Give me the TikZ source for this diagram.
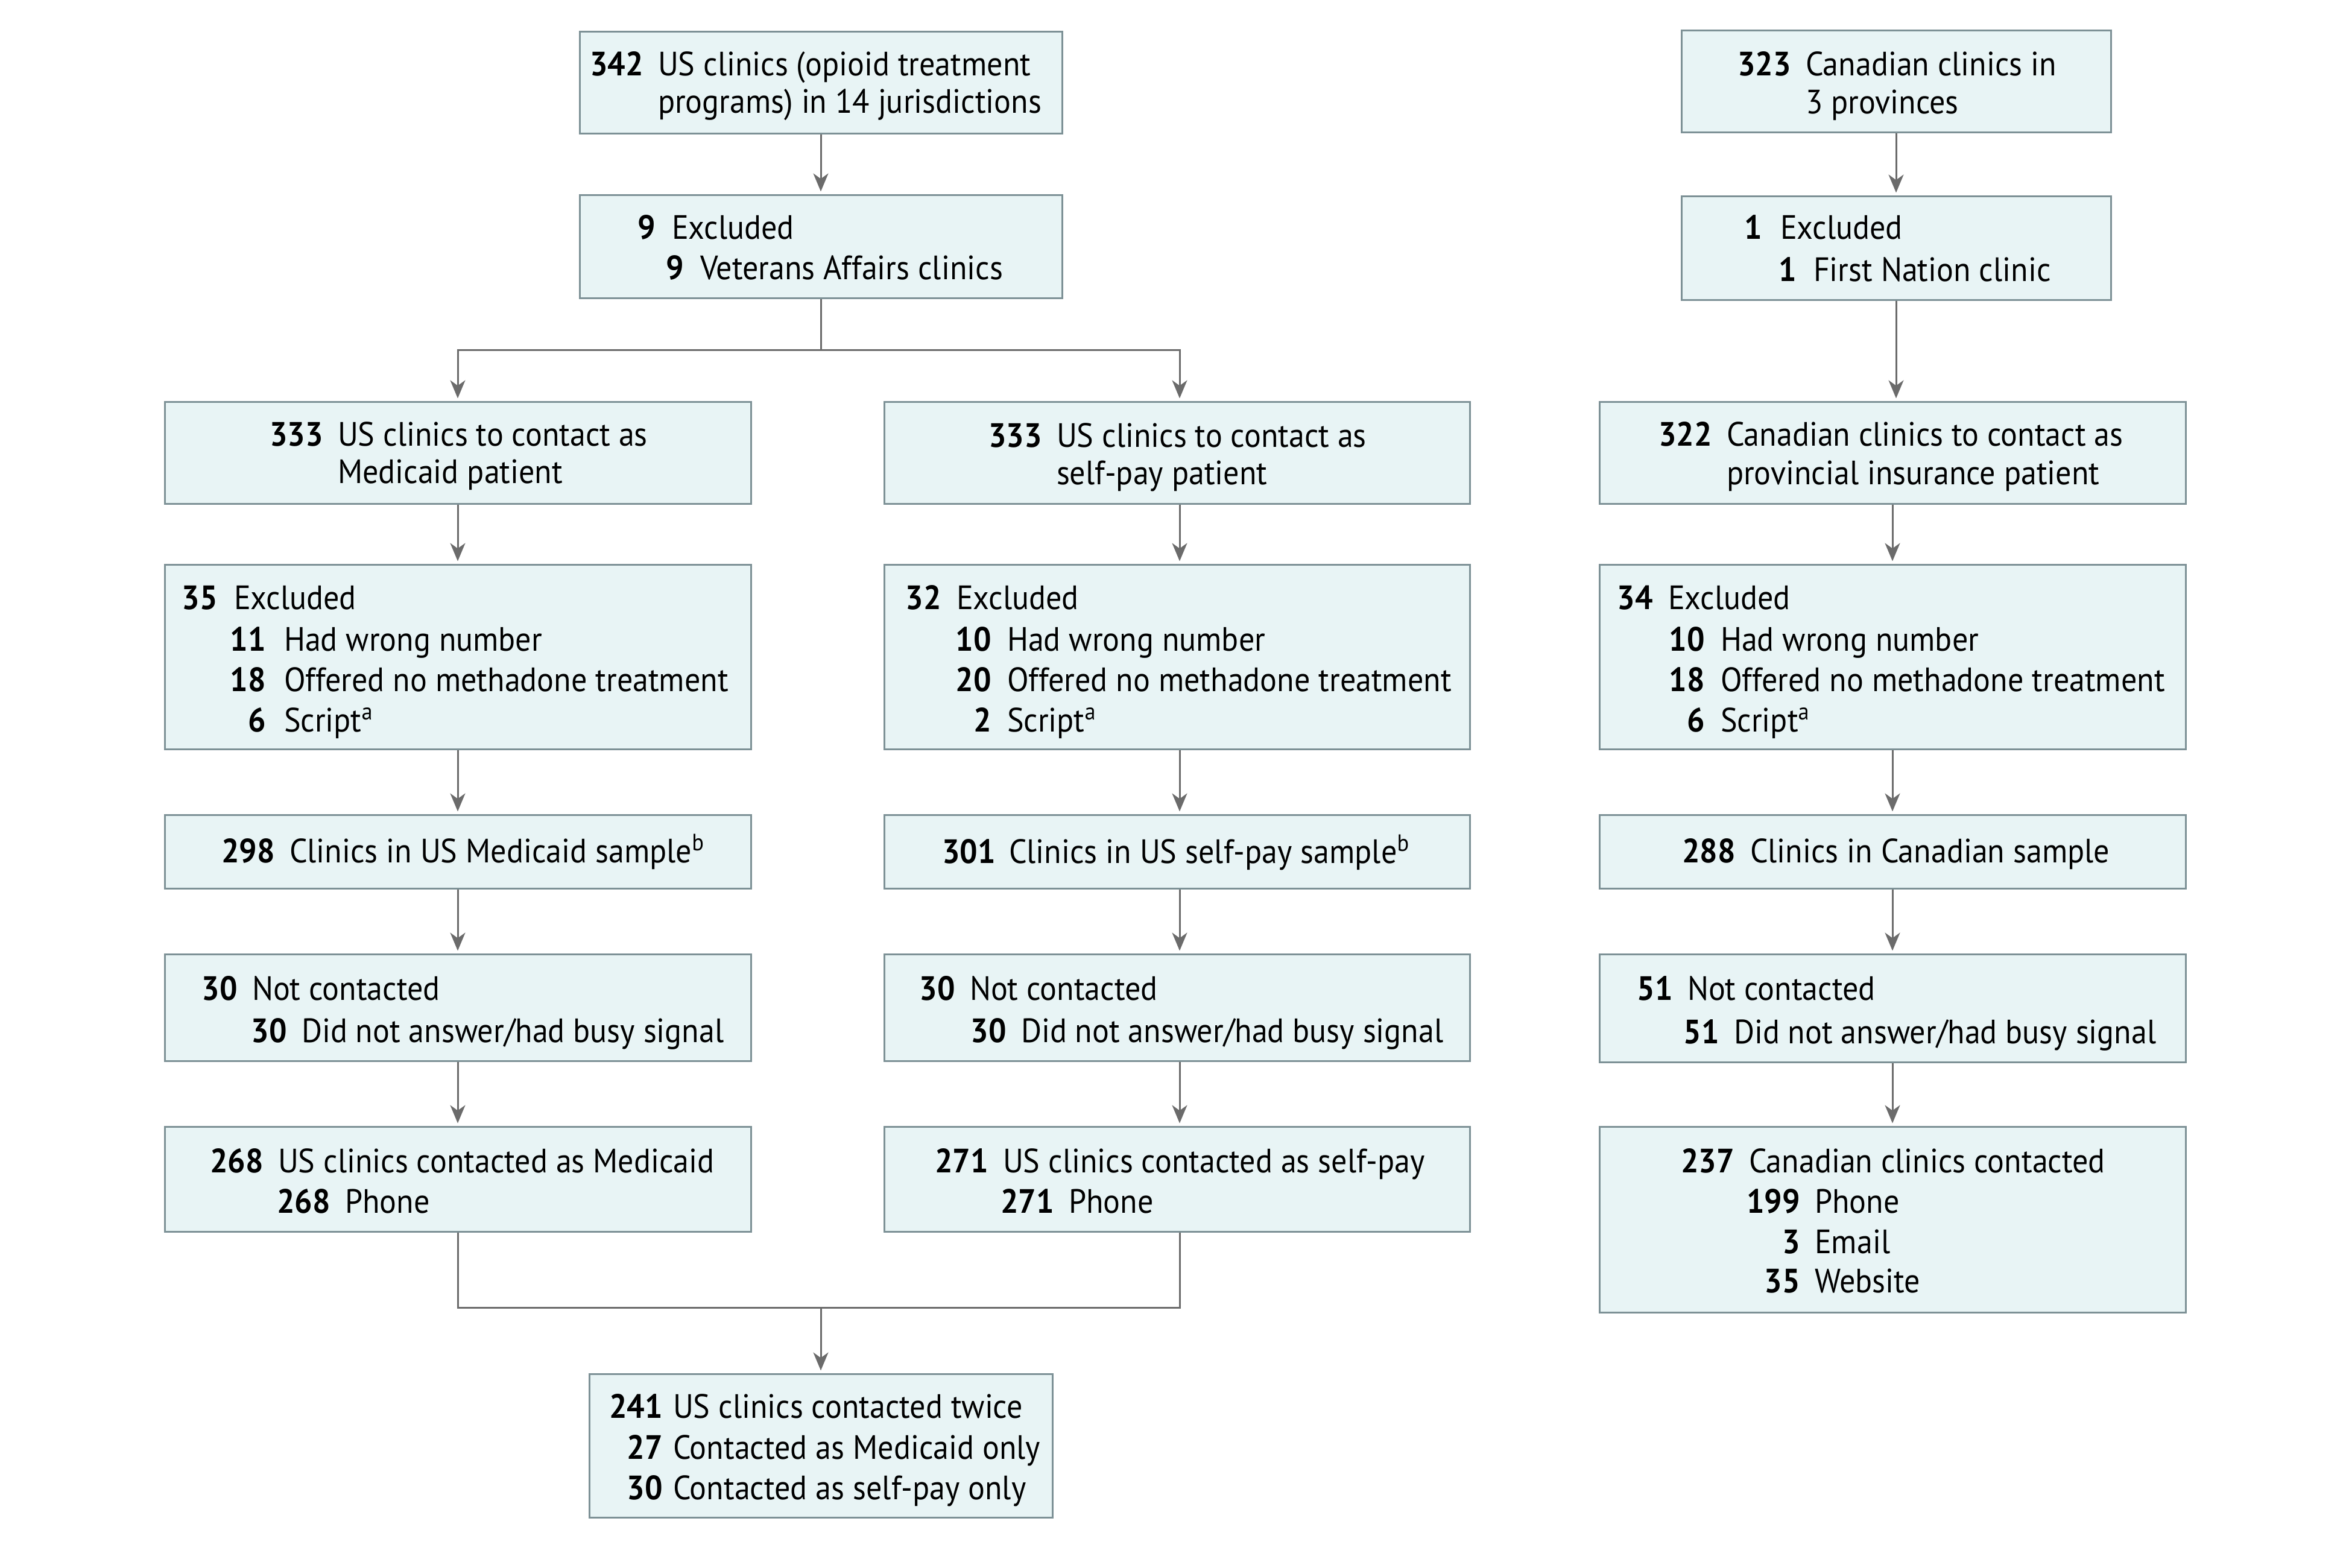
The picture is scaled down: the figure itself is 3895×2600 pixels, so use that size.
\documentclass[tikz,border=0pt]{standalone}
\usepackage{fontspec}
\setmainfont{PT Sans}[FakeStretch=0.93]
\usetikzlibrary{arrows.meta,fit}
\definecolor{boxfill}{HTML}{E8F4F5}
\definecolor{boxline}{HTML}{7D9196}
\definecolor{conn}{HTML}{6B6B6B}
\newcommand\ent[6]{%
  \node[numtxt,anchor=base east] (#1n) at (#2,#4) {#5};
  \node[bodytxt,anchor=base west] (#1t) at (#3,#4) {#6};}
\newcommand\etx[4]{\node[bodytxt,anchor=base west] (#1) at (#2,#3) {#4};}
\begin{document}
\begin{tikzpicture}[x=0.2pt,y=-0.2pt,
  box/.style={draw=boxline,fill=boxfill,line width=0.6pt,inner sep=0pt,rectangle},
  bodytxt/.style={inner sep=0pt,font=\fontsize{11.2}{13}\selectfont},
  numtxt/.style={inner sep=0pt,font=\fontsize{11.2}{13}\selectfont\bfseries},
  line/.style={draw=conn,line width=0.6pt},
  arr/.style={line,-{Stealth[length=6pt,width=5pt,inset=1.8pt]},shorten >=0.8pt}]
\useasboundingbox (0,0) rectangle (3895,2600);
% boxes
\node[box,fit={(961,52) (1761,221)}] (A) {};
\node[box,fit={(961,323) (1761,494)}] (B) {};
\node[box,fit={(2788,50) (3500,219)}] (C) {};
\node[box,fit={(2788,325) (3500,497)}] (D) {};
\node[box,fit={(273,666) (1245,835)}] (E) {};
\node[box,fit={(1466,666) (2437,835)}] (F) {};
\node[box,fit={(2652,666) (3624,835)}] (G) {};
\node[box,fit={(273,936) (1245,1242)}] (H) {};
\node[box,fit={(1466,936) (2437,1242)}] (I) {};
\node[box,fit={(2652,936) (3624,1242)}] (J) {};
\node[box,fit={(273,1351) (1245,1473)}] (K) {};
\node[box,fit={(1466,1351) (2437,1473)}] (L) {};
\node[box,fit={(2652,1351) (3624,1473)}] (M) {};
\node[box,fit={(273,1582) (1245,1759)}] (N) {};
\node[box,fit={(1466,1582) (2437,1759)}] (O) {};
\node[box,fit={(2652,1582) (3624,1761)}] (P) {};
\node[box,fit={(273,1868) (1245,2042)}] (Q) {};
\node[box,fit={(1466,1868) (2437,2042)}] (R) {};
\node[box,fit={(2652,1868) (3624,2176)}] (S) {};
\node[box,fit={(977,2278) (1745,2516)}] (T) {};
% connectors
\draw[arr] (A.south) -- (B.north);
\coordinate (split) at (1361,580);
\draw[line] (B.south) -- (split);
\draw[arr] (split) -| (E.north);
\draw[arr] (split) -| ([xshift=0.9pt]F.north);
\draw[arr] (C.south) -- (D.north);
\draw[arr] (D.south) -- (D.south |- G.north);
\foreach \u/\v in {E/H,H/K,K/N,N/Q,G/J,J/M,M/P,P/S}
  \draw[arr] (\u.south) -- (\v.north);
\foreach \u/\v in {F/I,I/L,L/O,O/R}
  \draw[arr] ([xshift=0.9pt]\u.south) -- ([xshift=0.9pt]\v.north);
\coordinate (merge) at (1361,2168);
\draw[line] (Q.south) |- (merge) -| ([xshift=0.9pt]R.south);
\draw[arr] (merge) -- (T.north);
% texts
\ent{a1}{1068}{1090}{125}{342}{US clinics (opioid treatment}
\etx{a2}{1090}{187}{programs) in 14 jurisdictions}
\ent{b1}{1088}{1113}{396}{9}{Excluded}
\ent{b2}{1135}{1160}{463}{9}{Veterans Affairs clinics}
\ent{c1}{2971}{2993}{125}{323}{Canadian clinics in}
\etx{c2}{2993}{188}{3 provinces}
\ent{d1}{2923}{2951}{396}{1}{Excluded}
\ent{d2}{2980}{3006}{466}{1}{First Nation clinic}
\ent{e1}{537}{559}{739}{333}{US clinics to contact as}
\etx{e2}{559}{801}{Medicaid patient}
\ent{f1}{1729}{1751}{741}{333}{US clinics to contact as}
\etx{f2}{1751}{803}{self-pay patient}
\ent{g1}{2840}{2862}{739}{322}{Canadian clinics to contact as}
\etx{g2}{2862}{803}{provincial insurance patient}
\ent{h1}{362}{387}{1010}{35}{Excluded}
\ent{h2}{442}{470}{1079}{11}{Had wrong number}
\ent{h3}{442}{470}{1146}{18}{Offered no methadone treatment}
\ent{h4}{442}{470}{1213}{6}{Script\textsuperscript{a}}
\ent{i1}{1562}{1585}{1010}{32}{Excluded}
\ent{i2}{1645}{1669}{1079}{10}{Had wrong number}
\ent{i3}{1645}{1669}{1146}{20}{Offered no methadone treatment}
\ent{i4}{1645}{1669}{1213}{2}{Script\textsuperscript{a}}
\ent{j1}{2742}{2765}{1010}{34}{Excluded}
\ent{j2}{2828}{2852}{1079}{10}{Had wrong number}
\ent{j3}{2828}{2852}{1146}{18}{Offered no methadone treatment}
\ent{j4}{2828}{2852}{1213}{6}{Script\textsuperscript{a}}
\ent{k1}{457}{479}{1430}{298}{Clinics in US Medicaid sample\textsuperscript{b}}
\ent{l1}{1652}{1672}{1431}{301}{Clinics in US self-pay sample\textsuperscript{b}}
\ent{m1}{2879}{2901}{1430}{288}{Clinics in Canadian sample}
\ent{n1}{395}{417}{1658}{30}{Not contacted}
\ent{n2}{477}{499}{1728}{30}{Did not answer/had busy signal}
\ent{o1}{1585}{1607}{1658}{30}{Not contacted}
\ent{o2}{1670}{1692}{1728}{30}{Did not answer/had busy signal}
\ent{p1}{2775}{2797}{1658}{51}{Not contacted}
\ent{p2}{2852}{2874}{1730}{51}{Did not answer/had busy signal}
\ent{q1}{438}{460}{1944}{268}{US clinics contacted as Medicaid}
\ent{q2}{549}{571}{2011}{268}{Phone}
\ent{r1}{1640}{1662}{1944}{271}{US clinics contacted as self-pay}
\ent{r2}{1749}{1771}{2011}{271}{Phone}
\ent{s1}{2877}{2899}{1944}{237}{Canadian clinics contacted}
\ent{s2}{2986}{3008}{2011}{199}{Phone}
\ent{s3}{2986}{3008}{2078}{3}{Email}
\ent{s4}{2986}{3008}{2143}{35}{Website}
\ent{t1}{1100}{1115}{2351}{241}{US clinics contacted twice}
\ent{t2}{1100}{1115}{2419}{27}{Contacted as Medicaid only}
\ent{t3}{1100}{1115}{2486}{30}{Contacted as self-pay only}
\end{tikzpicture}
\end{document}
